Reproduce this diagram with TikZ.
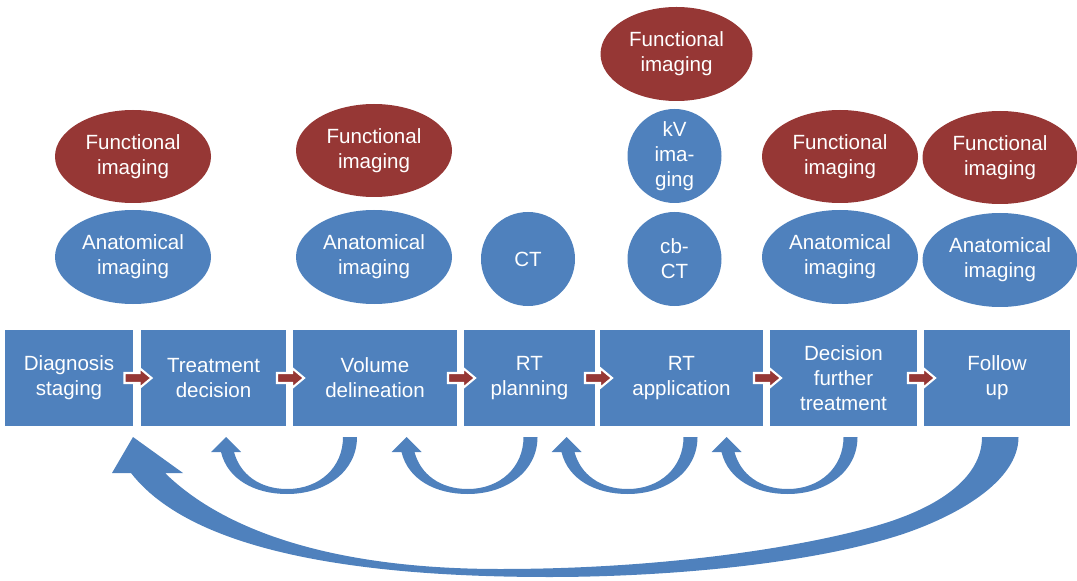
\documentclass[tikz,border=0pt]{standalone}
\usepackage{fontspec}
\setmainfont{Liberation Sans}
\usetikzlibrary{calc, positioning, shapes.geometric}
\definecolor{procblue}{RGB}{79,129,189}
\definecolor{funcred}{RGB}{150,55,53}
\tikzset{
    stage/.style={rectangle, fill=procblue, text=white, minimum height=1.92cm, inner sep=0pt, outer sep=0pt, align=center, font=\fontsize{11.7}{14.2}\selectfont},
    anat/.style={ellipse, fill=procblue, text=white, minimum width=3.12cm, minimum height=1.88cm, inner sep=0pt, outer sep=0pt, align=center, font=\fontsize{11.7}{14.2}\selectfont},
    func/.style={anat, fill=funcred, minimum height=1.86cm},
    scan/.style={circle, fill=procblue, text=white, minimum size=1.88cm, inner sep=0pt, outer sep=0pt, align=center, font=\fontsize{11.7}{14.2}\selectfont},
    steparrow/.style={fill=funcred, draw=white, line width=1.2pt},
    looparrow/.style={fill=procblue}
}
% small red arrow between two stages
\newcommand{\nextstep}[2]{%
  \begin{scope}[shift={($(#1.east)!0.5!(#2.west)$)}]
    \filldraw[steparrow] (-0.25,-0.1) -- (0.05,-0.1) -- (0.05,-0.2) -- (0.29,0) -- (0.05,0.2) -- (0.05,0.1) -- (-0.25,0.1) -- cycle;
  \end{scope}}
% curved arrow back to the previous stage
\newcommand{\backloop}[1]{%
  \begin{scope}[shift={(#1)}]
    \fill[looparrow] (-0.14,0) .. controls (-0.14,-0.6) and (-0.6,-1.04) .. (-1.26,-1.04)
      .. controls (-1.8,-1.04) and (-2.2,-0.75) .. (-2.32,-0.3)
      -- (-2.18,-0.3) -- (-2.48,0) -- (-2.78,-0.3) -- (-2.58,-0.3)
      .. controls (-2.45,-0.85) and (-1.9,-1.14) .. (-1.26,-1.14)
      .. controls (-0.5,-1.14) and (0.14,-0.7) .. (0.14,0) -- cycle;
  \end{scope}}

\begin{document}
\begin{tikzpicture}
	\useasboundingbox (0,0) rectangle (21.54,11.6);
	
	% --- stages ---
	\node[stage, minimum width=2.56cm] (b1) at (1.38,4.04) {Diagnosis\\staging};
	\node[stage, minimum width=2.90cm, right=0.16cm of b1] (b2) {Treatment\\decision};
	\node[stage, minimum width=3.28cm, right=0.14cm of b2] (b3) {Volume\\delineation};
	\node[stage, minimum width=2.62cm, right=0.14cm of b3] (b4) {RT\\planning};
	\node[stage, minimum width=3.26cm, right=0.10cm of b4] (b5) {RT\\application};
	\node[stage, minimum width=2.94cm, right=0.14cm of b5] (b6) {Decision\\further\\treatment};
	\node[stage, minimum width=2.92cm, right=0.14cm of b6] (b7) {Follow\\up};
	
	% --- imaging ---
	\coordinate (gap12) at ($(b1.north east)!0.5!(b2.north west)$);
	\node[anat, above=0.52cm of gap12, xshift=-0.08cm] (ana1) {Anatomical\\imaging};
	\node[func, above=0.14cm of ana1] (fun1) {Functional\\imaging};
	
	\node[anat, above=0.52cm of b3, xshift=-0.02cm] (ana3) {Anatomical\\imaging};
	\node[func, above=0.26cm of ana3] (fun3) {Functional\\imaging};
	
	\node[scan, above=0.48cm of b4, xshift=-0.03cm] (ct) {CT};
	
	\node[scan, above=0.48cm of b5, xshift=-0.14cm] (cbct) {cb-\\CT};
	\node[scan, above=0.18cm of cbct] (kv) {kV\\ima-\\ging};
	\node[func, above=0.16cm of kv, xshift=0.04cm, minimum width=3.04cm, minimum height=1.88cm] (ftop) {Functional\\imaging};
	
	\node[anat, above=0.52cm of b6, xshift=-0.07cm] (ana6) {Anatomical\\imaging};
	\node[func, above=0.14cm of ana6] (fun6) {Functional\\imaging};
	
	\node[anat, above=0.46cm of b7, xshift=0.06cm, minimum width=3.1cm] (ana7) {Anatomical\\imaging};
	\node[func, above=0.18cm of ana7, minimum width=3.1cm] (fun7) {Functional\\imaging};
	
	% --- forward arrows ---
	\nextstep{b1}{b2}
	\nextstep{b2}{b3}
	\nextstep{b3}{b4}
	\nextstep{b4}{b5}
	\nextstep{b5}{b6}
	\nextstep{b6}{b7}
	
	% --- feedback loops ---
	\coordinate (t3) at ($(b3.south)+(-0.5,-0.22)$);
	\coordinate (t4) at ($(b4.south)+(0.02,-0.22)$);
	\coordinate (t5) at ($(b5.south)+(0.18,-0.22)$);
	\coordinate (t6) at ($(b6.south)+(0.14,-0.22)$);
	\backloop{t3}
	\backloop{t4}
	\backloop{t5}
	\backloop{t6}
	
	% Follow up back to diagnosis
	\coordinate (t7) at ($(b7.south)+(0.06,-0.22)$);
	\begin{scope}[shift={(t7)}]
		\fill[looparrow] (0.37,0) .. controls (0.37,-0.9) and (-0.9,-1.6) .. (-2,-1.96)
		.. controls (-4,-2.6) and (-7,-2.8) .. (-9,-2.8)
		.. controls (-12,-2.8) and (-16,-2.5) .. (-17.38,-0.72)
		-- (-17.76,-0.72) -- (-17.34,0) -- (-16.34,-0.72) -- (-16.7,-0.72)
		.. controls (-15.6,-1.8) and (-13.5,-2.64) .. (-10,-2.64)
		.. controls (-6,-2.64) and (-3,-2.0) .. (-2,-1.62)
		.. controls (-1,-1.25) and (-0.36,-0.7) .. (-0.36,0) -- cycle;
	\end{scope}
	
\end{tikzpicture}
\end{document}
